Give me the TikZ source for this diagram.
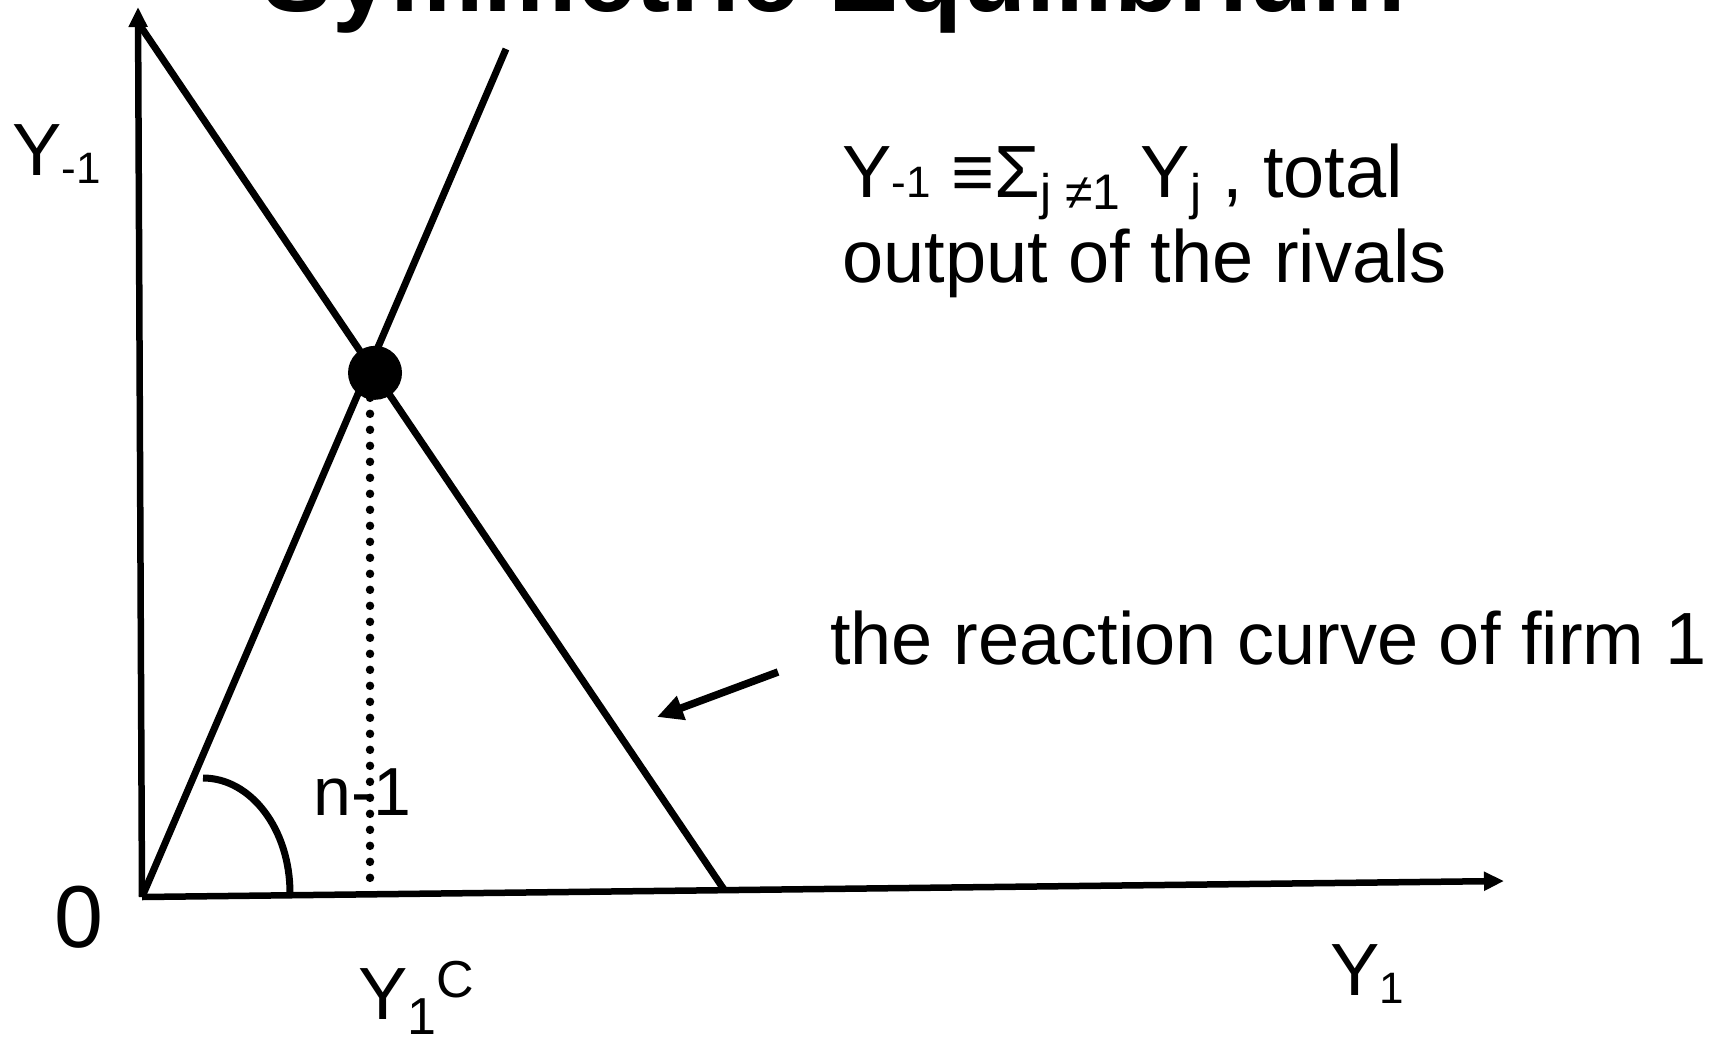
\documentclass[tikz,border=0pt]{standalone}
\usepackage{fontspec}
\setmainfont{Liberation Sans}
\usetikzlibrary{arrows.meta}
\newcommand\smtext[3]{\raisebox{#1}{\fontsize{#2}{#2}\selectfont #3}}
\begin{document}
\begin{tikzpicture}[x=1pt,y=-1pt,
  axis/.style={line width=6.5pt, -{Triangle[length=20pt,width=18pt]}},
  curveline/.style={line width=7pt},
  dotline/.style={line width=8.5pt, line cap=round, dash pattern=on 0pt off 16pt},
  pointer/.style={line width=7.5pt, -{Triangle[length=26pt,width=24pt]}},
  lbl/.style={inner sep=0pt, anchor=base west},
  big/.style={font=\fontsize{74}{85}\selectfont},
]
\useasboundingbox (0,0) rectangle (1715,1036);
\clip (0,0) rectangle (1715,1036);

% title (cut off at the top)
\node[lbl, font=\fontsize{105}{110}\selectfont\bfseries] (title) at (262,12) {Symmetric Equilibrium};

% points
\coordinate (O) at (142,897);
\coordinate (YT) at (138,7);
\coordinate (XT) at (1504,881);
\coordinate (R1) at (139,24);
\coordinate (R2) at (725,891);
\coordinate (RT) at (506,49);
\coordinate (E) at (intersection of R1--R2 and O--RT);
\coordinate (F) at (E |- 0,890);

% axes
\draw[axis] (O) -- (YT);
\draw[axis] (O) -- (XT);

% lines
\draw[curveline] (R1) -- (R2);
\draw[curveline] (O) -- (RT);
\draw[dotline] (E) -- (F);
\node[circle, fill, inner sep=0pt, minimum size=54pt] (eqdot) at ([shift={(5,7)}]E) {};

% angle arc
\draw[curveline] (203,778) arc[start angle=-90, end angle=0, x radius=87, y radius=115];
\node[lbl, font=\fontsize{68}{70}\selectfont] (slope) at (313,815) {n-1};

% axis labels
\node[lbl, big] (ylab) at (12,175) {Y\smtext{-8pt}{44}{-1}};
\node[lbl, font=\fontsize{88}{90}\selectfont] (zero) at (54,947) {0};
\node[lbl, big] (xlab) at (1330,995) {Y\smtext{-8pt}{44}{1}};
\node[lbl, big] (yc) at (358,1019) {Y\smtext{-15pt}{52}{1}\smtext{22pt}{52}{C}};

% definition text
\node[lbl, big] (def1) at (842,197) {Y\smtext{0pt}{44}{-1} ≡Σ\smtext{-12pt}{50}{j ≠1} Y\smtext{-12pt}{50}{j} , total};
\node[lbl, big] (def2) at (842,282) {output of the rivals};

% reaction curve label and pointer
\node[lbl, big] (react) at (830,664) {the reaction curve of firm 1};
\coordinate (A1) at (778,672);
\coordinate (A2) at (657,717);
\draw[pointer] (A1) -- (A2);
\end{tikzpicture}
\end{document}
